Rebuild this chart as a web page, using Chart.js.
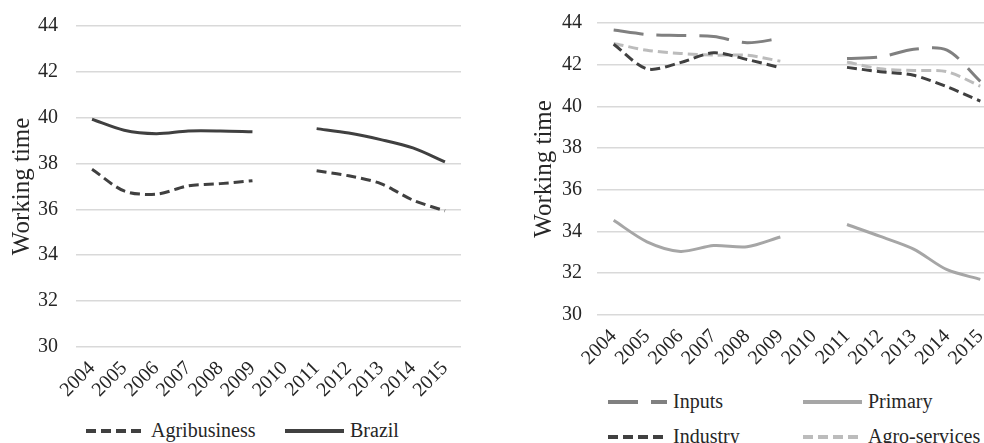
<!DOCTYPE html>
<html>
<head>
<meta charset="utf-8">
<script src="https://cdn.jsdelivr.net/npm/chart.js@4"></script>
<style>
  html, body { margin: 0; padding: 0; background: #fff; font-family: 'Liberation Serif'; }
  #page { position: relative; width: 984px; height: 443px; overflow: hidden; }
  .box { position: absolute; }
  .legend { position: absolute; font-size: 20px; color: #262626; white-space: nowrap; }
  .legend span { position: absolute; top: -12px; font-family: 'Liberation Serif'; }
  .legend svg { position: absolute; top: -3px; }
</style>
</head>
<body>
<div id="page">
  <div class="box" style="left:0;top:0;width:480px;height:404px"><canvas id="left"></canvas></div>
  <div class="box" style="left:500px;top:0;width:512px;height:372px"><canvas id="right"></canvas></div>
  <div id="legends"></div>
</div>
<script>
// years on the x axis (2010 has no data)
const years = ["2004", "2005", "2006", "2007", "2008", "2009", "2010", "2011", "2012", "2013", "2014", "2015"];
const yTicks = [30, 32, 34, 36, 38, 40, 42, 44];

// left panel
const agribusiness = [37.75, 36.8, 36.66, 37.02, 37.12, 37.25, null, 37.68, 37.46, 37.12, 36.4, 35.93];
const brazil = [39.93, 39.45, 39.3, 39.42, 39.42, 39.38, null, 39.52, 39.33, 39.04, 38.68, 38.07];

// right panel
const inputs = [43.66, 43.45, 43.4, 43.35, 43.05, 43.26, null, 42.3, 42.37, 42.74, 42.7, 41.2];
const primary = [34.53, 33.5, 33.04, 33.32, 33.26, 33.73, null, 34.33, 33.76, 33.15, 32.16, 31.7];
const industry = [42.98, 41.8, 42.1, 42.57, 42.25, 41.85, null, 41.87, 41.66, 41.49, 40.94, 40.25];
const agroServices = [43.02, 42.69, 42.54, 42.46, 42.45, 42.17, null, 42.13, 41.8, 41.72, 41.66, 40.97];

const FONT = "'Liberation Serif'";
const TEXT = "#262626";
Chart.defaults.font.family = FONT;

function line(label, data, color, dash) {
  return {
    label, data,
    borderColor: color,
    backgroundColor: color,
    borderWidth: 3,
    borderDash: dash,
    pointRadius: 0,
    tension: 0.3,
    spanGaps: false,
    fill: false
  };
}

// gap = space between the y tick labels and the plot (drawn as invisible tick marks)
function makeChart(id, datasets, axisWidth, gap, pad) {
  return new Chart(document.getElementById(id), {
    type: "line",
    data: { labels: years, datasets },
    options: {
      responsive: true,
      maintainAspectRatio: false,
      animation: false,
      layout: { padding: pad },
      plugins: { legend: { display: false }, tooltip: { enabled: false } },
      scales: {
        x: {
          offset: true,
          grid: { display: false },
          border: { display: false },
          ticks: { font: { family: FONT, size: 20 }, color: TEXT, maxRotation: 45, minRotation: 45, autoSkip: false, padding: 2 }
        },
        y: {
          min: 30, max: 44,
          afterBuildTicks: s => { s.ticks = yTicks.map(v => ({ value: v })); },
          afterFit: s => { s.width = axisWidth; },
          grid: { color: "#d9d9d9", lineWidth: 1.5, drawTicks: true, tickLength: gap, tickColor: "rgba(0,0,0,0)" },
          border: { display: false },
          ticks: { font: { family: FONT, size: 20 }, color: TEXT, padding: 4 },
          title: { display: true, text: "Working time", font: { family: FONT, size: 25 }, color: TEXT, padding: 0 }
        }
      }
    }
  });
}

makeChart("left", [
  line("Agribusiness", agribusiness, "#404040", [10, 5]),
  line("Brazil", brazil, "#404040", [])
], 69, 14, { left: 7, right: 19, top: 26, bottom: 0 });

makeChart("right", [
  line("Inputs", inputs, "#808080", [30, 13]),
  line("Primary", primary, "#a6a6a6", []),
  line("Industry", industry, "#404040", [10, 5]),
  line("Agro-services", agroServices, "#bcbcbc", [10, 5])
], 68, 11, { left: 29, right: 15, top: 23, bottom: 0 });

// legends laid out like the original figure
const legendItems = [
  { text: "Agribusiness", color: "#404040", dash: "10 5", x: 86, y: 431 },
  { text: "Brazil", color: "#404040", dash: "", x: 285, y: 431 },
  { text: "Inputs", color: "#808080", dash: "30 13", x: 608, y: 402 },
  { text: "Primary", color: "#a6a6a6", dash: "", x: 803, y: 402 },
  { text: "Industry", color: "#404040", dash: "10 5", x: 608, y: 437 },
  { text: "Agro-services", color: "#bcbcbc", dash: "10 5", x: 803, y: 437 }
];
const holder = document.getElementById("legends");
legendItems.forEach(it => {
  const d = document.createElement("div");
  d.className = "legend";
  d.style.left = it.x + "px";
  d.style.top = it.y + "px";
  d.innerHTML = '<svg width="60" height="6"><line x1="0" y1="3" x2="59" y2="3" stroke="' + it.color +
    '" stroke-width="4" stroke-dasharray="' + it.dash + '"/></svg><span style="left:65px">' + it.text + '</span>';
  holder.appendChild(d);
});
</script>
</body>
</html>
